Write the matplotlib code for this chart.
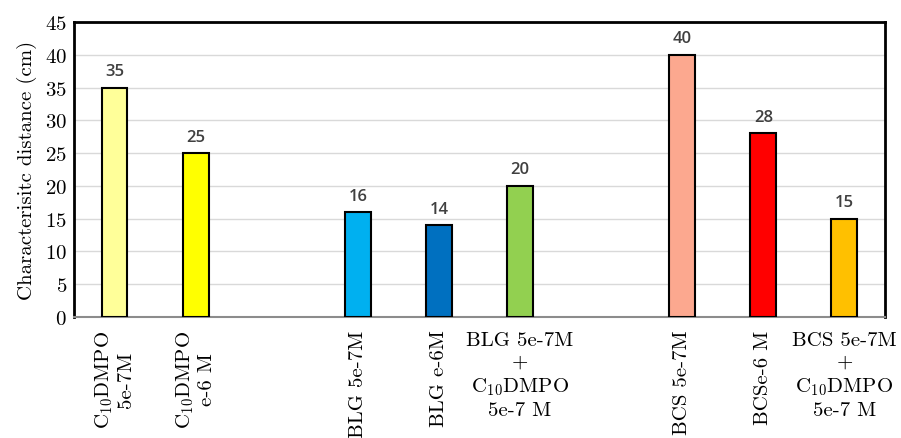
import matplotlib
matplotlib.use('Agg')
import matplotlib.pyplot as plt

plt.rcParams['font.family'] = ['cmr10', 'DejaVu Serif']
plt.rcParams['mathtext.fontset'] = 'cm'
plt.rcParams['axes.formatter.use_mathtext'] = True

# Data
positions = [0, 1, 3, 4, 5, 7, 8, 9]
values = [35, 25, 16, 14, 20, 40, 28, 15]
labels = ['C$_{10}$DMPO\n5e-7M', 'C$_{10}$DMPO\ne-6 M',
          'BLG 5e-7M', 'BLG e-6M', 'BLG 5e-7M\n+\nC$_{10}$DMPO\n5e-7 M',
          'BCS 5e-7M', 'BCSe-6 M', 'BCS 5e-7M\n+\nC$_{10}$DMPO\n5e-7 M']
rotated = [True, True, True, True, False, True, True, False]
colors = ['#FFFF99', '#FFFF00', '#00B0F0', '#0070C0', '#92D050',
          '#FCA88F', '#FF0000', '#FFC000']

fig = plt.figure(figsize=(9.01, 4.39), dpi=100)
ax = fig.add_axes([0.0821, 0.2756, 0.9001, 0.672])

ax.bar(positions, values, width=0.32, color=colors, edgecolor='black',
       linewidth=1.5, zorder=3)
for x, v in zip(positions, values):
    ax.text(x, v + 1.3, str(v), ha='center', va='bottom', fontsize=12,
            fontweight='semibold', color='#404040', family='Open Sans')

ax.set_xlim(-0.5, 9.5)
ax.set_ylim(0, 45)
ax.set_yticks(range(0, 46, 5))
ax.yaxis.grid(True, color='#D9D9D9', linewidth=1, zorder=0)
ax.tick_params(axis='both', length=0, labelsize=15)
ax.tick_params(axis='y', pad=5)
ax.set_ylabel('Characterisitc distance (cm)', fontsize=15, labelpad=6)

ax.set_xticks(positions)
ax.set_xticklabels([])
for x, lab, rot in zip(positions, labels, rotated):
    if rot:
        ax.annotate(lab, xy=(x, 0), xycoords=('data', 'axes fraction'),
                    xytext=(0, -9), textcoords='offset points',
                    rotation=90, ha='center', va='top', fontsize=15,
                    multialignment='center', linespacing=1.15)
    else:
        ax.annotate(lab, xy=(x, 0), xycoords=('data', 'axes fraction'),
                    xytext=(0, -10), textcoords='offset points',
                    ha='center', va='top', fontsize=15,
                    multialignment='center', linespacing=1.3)

for side in ['left', 'top', 'right']:
    ax.spines[side].set_color('black')
    ax.spines[side].set_linewidth(2)
ax.spines['bottom'].set_color('#8C8C8C')
ax.spines['bottom'].set_linewidth(1.5)

fig.savefig('out.png', dpi=100)
